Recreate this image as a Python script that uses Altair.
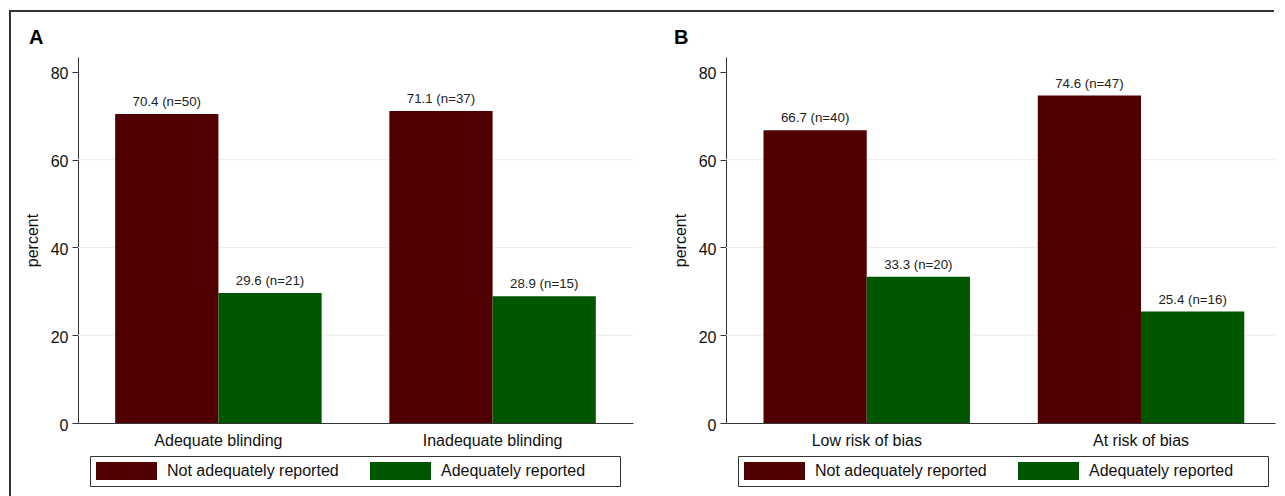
import altair as alt
import pandas as pd

# ---------------- data ----------------
series = ["Not adequately reported", "Adequately reported"]

cats_a = ["Adequate blinding", "Inadequate blinding"]
pct_not_a = [70.4, 71.1]
n_not_a = [50, 37]
pct_adq_a = [29.6, 28.9]
n_adq_a = [21, 15]

cats_b = ["Low risk of bias", "At risk of bias"]
pct_not_b = [66.7, 74.6]
n_not_b = [40, 47]
pct_adq_b = [33.3, 25.4]
n_adq_b = [20, 16]

y_ticks = [0, 20, 40, 60, 80]
grid_vals = [20, 40, 60]

# ---------------- style ----------------
FONT = "Liberation Sans"
COLORS = ["#500000", "#005700"]
H = 366
YMAX = 83.4
FRAME = "#333333"


def table(cats, pn, nn, pa, na):
    rows = []
    for c, p, n in zip(cats, pn, nn):
        rows.append({"cat": c, "series": series[0], "pct": p, "label": f"{p} (n={n})"})
    for c, p, n in zip(cats, pa, na):
        rows.append({"cat": c, "series": series[1], "pct": p, "label": f"{p} (n={n})"})
    return pd.DataFrame(rows)


def panel(df, cats, letter, title_dx, frame_pieces, width, xscale):
    x = alt.X(
        "cat:N", sort=cats, title=None,
        scale=xscale,
        axis=alt.Axis(labelAngle=0, ticks=False, labelFontSize=16, labelFont=FONT,
                      labelColor="#111111", labelPadding=9, domainColor=FRAME,
                      grid=False, labelLimit=0),
    )
    xo = alt.XOffset("series:N", sort=series,
                     scale=alt.Scale(paddingInner=0, paddingOuter=0))
    y = alt.Y(
        "pct:Q",
        scale=alt.Scale(domain=[0, YMAX], nice=False, zero=True),
        axis=alt.Axis(values=y_ticks, title="percent", grid=False, tickSize=6,
                      tickColor=FRAME, domainColor=FRAME, labelFontSize=16,
                      labelFont=FONT, labelColor="#111111", labelPadding=4,
                      labelOffset=2, titleFont=FONT, titleFontSize=16,
                      titleFontWeight="normal", titleColor="#111111",
                      titlePadding=10),
    )
    color = alt.Color(
        "series:N", sort=series,
        scale=alt.Scale(domain=series, range=COLORS),
        legend=alt.Legend(
            title="\u00a0", titleOrient="right", titleFontSize=8, titlePadding=29,
            orient="none", legendX=12, legendY=399,
            direction="horizontal", columns=2,
            columnPadding=30, padding=6, strokeColor=FRAME, fillColor="white",
            symbolType="M-3.389,-1H3.389V1H-3.389Z", symbolSize=324,
            symbolOffset=21.5, symbolStrokeWidth=0, symbolOpacity=1,
            labelFontSize=16, labelFont=FONT, labelColor="#111111",
            labelOffset=31.5, labelLimit=0,
        ),
    )

    bars = alt.Chart(df).mark_bar().encode(x=x, xOffset=xo, y=y, color=color)

    grid = alt.Chart(pd.DataFrame({"pct": grid_vals})).mark_rule(
        color="#ececec", strokeWidth=1
    ).encode(y=y)

    text = alt.Chart(df).mark_text(
        dy=-8, baseline="alphabetic", fontSize=13.3, font=FONT, color="#222222"
    ).encode(x=x, xOffset=xo, y=y, text="label:N")

    layers = [grid, bars, text]
    for enc in frame_pieces:
        layers.append(
            alt.Chart(pd.DataFrame({"k": [0]})).mark_rule(
                color=FRAME, strokeWidth=2, strokeCap="square"
            ).encode(**enc)
        )

    return alt.layer(*layers).properties(
        width=width, height=H,
        title=alt.Title(letter, anchor="start", frame="group", fontSize=20,
                        fontWeight="bold", font=FONT, color="#000000",
                        dx=title_dx, dy=54, offset=0, baseline="alphabetic"),
    )


frame_a = [
    dict(x=alt.value(-68), y=alt.value(-46), y2=alt.value(439)),
    dict(x=alt.value(-68), x2=alt.value(592), y=alt.value(-46)),
]
frame_b = [
    dict(x=alt.value(-54), x2=alt.value(547), y=alt.value(-46)),
]

scale_a = alt.Scale(paddingInner=0.247, paddingOuter=0.1356)
scale_b = alt.Scale(paddingInner=0.247, paddingOuter=0.1243, align=0.55)

pa = panel(table(cats_a, pct_not_a, n_not_a, pct_adq_a, n_adq_a), cats_a, "A", -49,
           frame_a, 555, scale_a)
pb = panel(table(cats_b, pct_not_b, n_not_b, pct_adq_b, n_adq_b), cats_b, "B", -52,
           frame_b, 549, scale_b)

chart = (
    alt.hconcat(pa, pb, spacing=-2)
    .resolve_scale(color="independent")
    .properties(padding={"left": 0, "top": 1, "right": 0, "bottom": 0},
                background="white")
    .configure_view(stroke=None)
)

chart.save("out.html", embed_options={"renderer": "svg", "actions": False})
